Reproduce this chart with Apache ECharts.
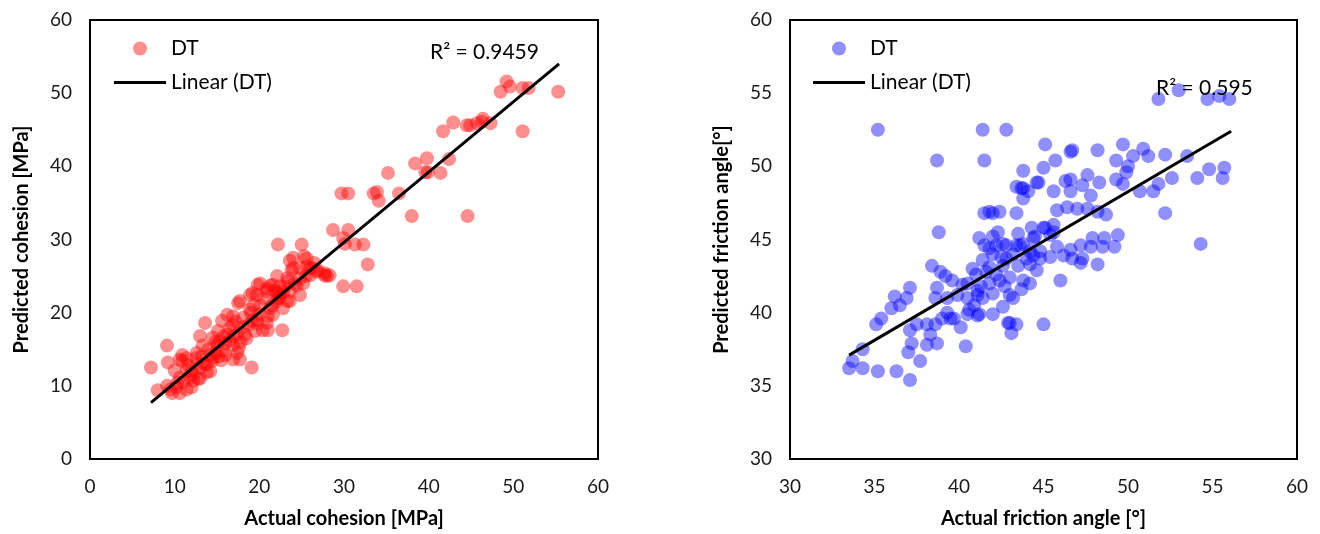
<!DOCTYPE html>
<html>
<head>
<meta charset="utf-8">
<script src="https://cdn.jsdelivr.net/npm/echarts@6/dist/echarts.min.js"></script>
<style>
  html, body { margin: 0; padding: 0; background: #fff; overflow: hidden; }
  #wrap { width: 1320px; height: 534px; display: flex; }
  #cohesion { width: 660px; height: 534px; }
  #friction { width: 660px; height: 534px; }
</style>
</head>
<body>
<div id="wrap">
  <div id="cohesion"></div>
  <div id="friction"></div>
</div>
<script>
// --- Données ---

// [réel, prédit] cohésion (MPa)
const cohesionPoints = [
  [55.3,50.2],[48.5,50.2],[49.2,51.6],[49.6,50.9],[51.1,50.7],[51.8,50.7],[51.1,44.8],[41.7,44.8],
  [42.9,46.0],[44.5,45.6],[44.9,45.6],[45.7,45.9],[46.4,46.5],[47.3,45.9],[46.3,46.1],
  [38.4,40.4],[39.8,41.1],[42.4,41.0],[39.6,39.2],[39.9,39.2],[41.4,39.1],[35.2,39.1],
  [29.7,36.3],[30.5,36.3],[33.5,36.3],[33.9,36.5],[34.1,35.3],[36.5,36.3],[38.0,33.2],[44.6,33.2],
  [28.7,31.3],[30.5,31.3],[29.9,30.2],[30.1,29.4],[31.3,29.3],[32.3,29.3],[32.8,26.6],[29.9,23.6],[31.5,23.6],
  [22.2,29.3],[25.0,29.3],
  [24.0,27.5],[25.3,27.7],[24.0,26.1],[24.8,26.1],[25.6,26.3],[26.3,26.1],[26.9,25.8],[26.0,25.1],
  [28.3,25.1],[28.0,25.0],[27.7,25.4],
  [20.1,24.0],[21.3,23.7],[22.4,23.6],[23.4,24.3],[24.4,23.7],[25.2,24.0],[18.9,22.4],[19.7,22.4],
  [20.9,22.9],[22.1,22.7],[23.6,22.9],[24.8,22.4],[17.5,21.3],[19.3,21.0],[22.4,22.0],[23.6,21.6],
  [7.2,12.5],[9.1,15.5],[9.2,13.2],[8.0,9.4],[9.1,10.0],[9.7,9.0],[10.6,9.0],[11.4,9.5],[10.3,10.4],[12.2,10.7],
  [10.0,12.1],[10.6,13.6],[10.9,14.2],[11.6,12.8],[12.6,14.5],[13.0,12.5],[13.8,11.8],[14.4,13.4],
  [13.3,15.5],[13.0,16.8],[13.6,18.6],[14.5,16.6],[15.1,17.5],[15.6,18.9],[16.2,19.7],[16.9,15.6],
  [17.7,13.6],[19.1,12.5],[17.4,14.5],[17.7,21.6],[19.2,22.7],[18.9,20.4],[19.7,19.0],[20.4,17.6],
  [21.0,17.6],[22.7,17.6],[19.8,23.8],[20.9,23.3],[21.6,23.8],[22.1,22.0],[22.8,20.6],[24.2,24.0],
  [23.8,25.8],[26.0,26.1],[26.8,25.6],[27.7,25.1],[23.6,27.1],[25.6,27.4],
  [15.0,15.6],[15.7,14.8],[14.2,14.2],[16.2,17.0],[16.9,18.3],[17.4,17.0],[18.3,17.0],[18.7,18.3],
  [19.2,18.9],[18.1,19.3],[16.9,19.5],[16.5,17.9],[15.3,16.1],[12.6,12.9],[12.2,11.5],[11.4,12.1],
  [10.6,11.1],[13.8,12.9],[14.5,13.8],[11.4,13.8],[10.9,13.4],
  [20.1,21.0],[21.3,20.6],[21.6,19.7],[20.9,18.6],[22.4,22.4],[23.3,21.6],[23.3,24.7],[22.1,25.0],
  [24.8,24.7],[16.9,13.6],
  [11.0,10.5],[12.0,9.8],[12.8,11.0],[13.5,13.0],[14.0,15.0],[14.8,14.5],[15.5,13.5],[16.0,15.8],
  [16.5,16.2],[17.0,16.8],[17.8,16.0],[18.0,18.0],[19.5,17.5],[20.0,19.8],[21.5,21.0],[22.0,21.5],
  [22.8,22.8],[13.2,14.0],[12.0,12.0],[15.8,16.8],[9.5,9.5],[10.2,9.8],[11.8,11.2],[14.2,12.0],
  [15.2,14.0],[18.5,16.5],[19.0,20.0],[20.5,22.0],[21.8,23.0],[17.2,18.8],[16.0,14.2],[13.0,11.0],
  [12.5,13.8],[14.8,16.0],[17.6,15.2],[19.8,18.5],[21.0,19.5],[23.0,23.5],[25.5,25.0],[26.5,26.8]
];
// droite de tendance (début, fin)
const cohesionTrend = [[7.2, 7.7], [55.4, 54.0]];
const cohesionR2 = 'R² = 0.9459';
const cohesionTicks = [0, 10, 20, 30, 40, 50, 60];

// [réel, prédit] angle de frottement (°)
const frictionPoints = [
  [35.2,52.5],[41.4,52.5],[42.8,52.5],[38.7,50.4],[41.5,50.4],[38.8,45.5],[41.2,45.1],[41.5,46.8],
  [41.5,44.6],[38.4,43.2],
  [51.8,54.6],[53.0,55.2],[54.7,54.6],[55.4,54.8],[56.0,54.6],
  [45.1,51.5],[46.6,51.0],[46.7,51.1],[45.7,50.4],[45.0,49.9],[43.8,49.7],[48.2,51.1],[49.7,51.5],
  [49.3,50.4],[50.3,50.7],[50.9,51.2],[51.2,50.7],[52.2,50.8],[53.5,50.7],[54.8,49.8],[55.7,49.9],
  [55.6,49.2],[54.1,49.2],[52.6,49.2],[49.9,49.6],[50.0,50.0],[50.7,48.3],[51.5,48.3],[51.8,48.8],
  [49.7,48.8],[49.3,49.1],[46.6,49.1],[46.3,49.0],[47.6,49.4],[48.3,48.9],[47.3,48.7],[46.6,48.3],
  [45.6,48.3],[44.6,48.9],[43.8,48.5],[43.4,48.6],[47.8,48.0],[52.2,46.8],[54.3,44.7],
  [45.8,47.0],[46.4,47.2],[47.0,47.1],[47.6,47.1],[48.2,46.9],[48.7,46.7],[42.4,46.9],[41.8,46.9],[43.4,46.8],
  [42.6,44.7],[43.6,44.6],[44.4,45.1],[45.1,45.8],[45.6,45.5],[45.8,44.5],[46.6,44.3],[47.2,44.6],
  [47.9,45.1],[48.6,45.1],[49.4,45.3],[49.2,44.5],[48.5,44.5],[47.8,44.5],[42.0,45.2],
  [43.7,48.5],[44.1,48.3],[44.7,48.9],[43.8,47.8],
  [42.0,46.8],[42.3,45.5],[42.2,44.6],[42.8,44.6],[43.4,44.6],[43.8,44.7],[44.3,45.8],[45.0,45.8],
  [45.6,46.0],[44.5,45.2],[45.4,45.3],
  [42.8,43.7],[42.0,44.0],[41.4,43.6],[41.8,43.1],[42.6,43.2],[44.0,43.7],[44.4,43.9],[44.8,43.7],
  [44.2,43.3],[44.6,42.9],[45.4,43.8],[46.2,43.9],[46.7,43.7],[47.3,43.7],[47.2,43.4],[48.2,43.3],
  [46.0,42.2],[43.8,42.2],
  [40.2,41.9],[41.1,41.5],[41.8,42.0],[42.4,42.2],[42.7,41.8],[43.0,41.2],[43.2,41.0],[41.4,41.0],
  [40.9,40.5],[40.5,41.0],[39.9,41.2],[39.7,39.6],[40.1,39.0],[41.2,39.9],[42.0,39.9],[42.9,39.3],
  [43.4,39.2],[43.1,38.6],[45.0,39.2],[40.4,37.7],[43.0,39.3],
  [33.7,36.7],[33.5,36.2],[34.3,37.5],[34.3,36.2],[35.2,36.0],[36.3,36.0],[37.1,35.4],[37.7,36.7],
  [37.0,37.3],[37.2,37.9],[38.1,37.8],[38.7,37.9],[37.1,38.8],[37.5,39.2],[38.3,38.5],[38.1,39.2],
  [38.6,39.2],[39.5,39.6],[40.5,39.9],[41.1,39.8],[35.1,39.2],[35.4,39.6],[36.0,40.3],
  [36.5,40.5],[36.2,41.1],[36.9,41.0],[37.1,41.7],[38.7,41.7],[38.6,41.0],[39.3,41.0],[38.9,42.8],
  [39.2,42.5],[39.6,42.2],[40.5,42.0],[41.1,41.2],
  [41.0,42.6],[41.6,42.8],[42.2,42.6],[42.5,43.8],[43.0,42.4],[43.5,43.2],[41.3,41.8],[42.0,41.3],
  [40.6,40.2],[39.3,40.0],[39.0,39.6],[42.6,40.4],[43.7,41.6],[44.2,42.0],[44.8,44.2],[43.2,44.0],
  [40.8,43.0],[41.8,44.4],[43.5,45.4],[44.2,44.2]
];
const frictionTrend = [[33.5, 37.1], [56.1, 52.4]];
const frictionR2 = 'R² = 0.595';
const frictionTicks = [30, 35, 40, 45, 50, 55, 60];

const FONT = 'Lato';
// icône de légende : simple trait, sans marqueur
const LINE_ICON = 'path://M0,0L52,0L52,3L0,3Z';

function scatterOption(cfg) {
    const axisBase = {
        type: 'value',
        min: cfg.ticks[0],
        max: cfg.ticks[cfg.ticks.length - 1],
        interval: cfg.ticks[1] - cfg.ticks[0],
        nameLocation: 'middle',
        nameTextStyle: { fontFamily: FONT, fontWeight: 'bold', fontSize: 20, color: '#000' },
        axisLine: { show: true, onZero: false, lineStyle: { color: '#000', width: 2 } },
        axisTick: { show: false },
        splitLine: { show: false },
        axisLabel: { fontFamily: FONT, fontSize: 19, color: '#1a1a1a', margin: 18 }
    };
    return {
        animation: false,
        textStyle: { fontFamily: FONT },
        grid: {
            left: cfg.gridLeft, right: cfg.gridRight, top: 20, bottom: 72,
            show: true, borderColor: '#000', borderWidth: 2
        },
        legend: {
            orient: 'vertical',
            left: cfg.legendLeft,
            top: 33,
            itemWidth: 52,
            itemHeight: 14,
            itemGap: 13,
            data: ['DT', { name: 'Linear (DT)', icon: LINE_ICON }],
            textStyle: { fontFamily: FONT, fontSize: 21, color: '#000' }
        },
        xAxis: Object.assign({}, axisBase, { name: cfg.xName, nameGap: 50 }),
        yAxis: Object.assign({}, axisBase, { name: cfg.yName, nameGap: cfg.yNameGap }),
        graphic: [{
            type: 'text',
            left: cfg.r2Pos[0],
            top: cfg.r2Pos[1],
            z: 10,
            style: { text: cfg.r2, font: '21px ' + FONT, fill: '#000' }
        }],
        series: [
            {
                name: 'DT',
                type: 'scatter',
                symbolSize: 14,
                itemStyle: { color: cfg.color, opacity: 0.44 },
                data: cfg.points
            },
            {
                name: 'Linear (DT)',
                type: 'line',
                showSymbol: false,
                symbol: 'none',
                lineStyle: { color: '#000', width: 3 },
                itemStyle: { color: '#000' },
                data: cfg.trend
            }
        ]
    };
}

function create(selector, cfg) {
    const dom = document.querySelector(selector);
    const chart = echarts.init(dom);
    chart.setOption(scatterOption(cfg));
    return chart;
}

create('#cohesion', {
    points: cohesionPoints,
    trend: cohesionTrend,
    r2: cohesionR2,
    ticks: cohesionTicks,
    color: '#ff0000',
    gridLeft: 90,
    gridRight: 62,
    legendLeft: 109,
    r2Pos: [430, 42],
    xName: 'Actual cohesion [MPa]',
    yName: 'Predicted cohesion [MPa]',
    yNameGap: 58
});

create('#friction', {
    points: frictionPoints,
    trend: frictionTrend,
    r2: frictionR2,
    ticks: frictionTicks,
    color: '#0000ff',
    gridLeft: 130,
    gridRight: 23,
    legendLeft: 148,
    r2Pos: [496, 78],
    xName: 'Actual friction angle [°]',
    yName: 'Predicted friction angle[°]',
    yNameGap: 58
});
</script>
</body>
</html>
